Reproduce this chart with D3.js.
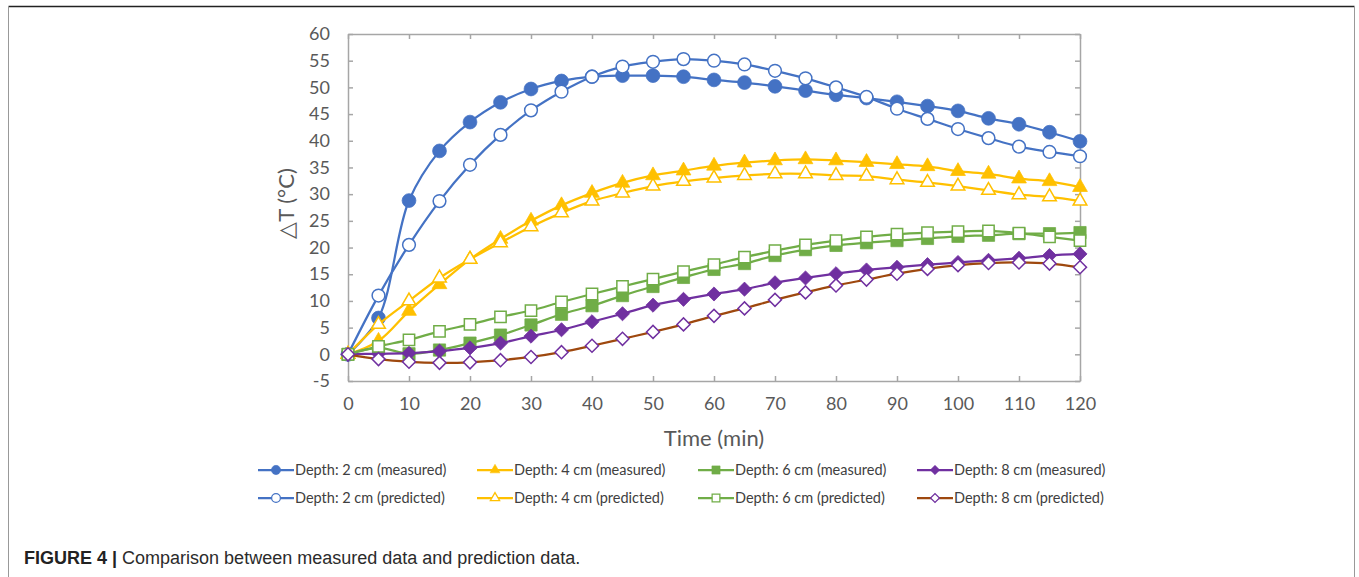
<!DOCTYPE html>
<meta charset="utf-8">
<title>Comparison between measured data and prediction data</title>
<style>
  body {
    margin: 0;
    padding: 0;
    overflow: hidden;
    background-color: #fff;
  }

  svg {
    display: block;
  }

  .tick text {
    font-family: Lato, "Open Sans", sans-serif;
    font-size: 18px;
    fill: #595959;
  }

  .axis-title {
    font-family: Lato, "Open Sans", sans-serif;
    font-size: 22px;
    fill: #595959;
  }

  .legend text {
    font-family: Lato, "Open Sans", sans-serif;
    font-size: 14.5px;
    fill: #404040;
  }

  .caption {
    font-family: "Liberation Sans", Arial, sans-serif;
    font-size: 18px;
    fill: #2b2b2b;
  }
</style>

<body>
  <script src="https://cdn.jsdelivr.net/npm/d3@7"></script>

  <script>
    var times = [0, 5, 10, 15, 20, 25, 30, 35, 40, 45, 50, 55, 60, 65, 70, 75, 80, 85, 90, 95, 100, 105, 110, 115, 120];

    var depth2Measured = [0, 6.8, 28.8, 38.1, 43.5, 47.2, 49.7, 51.2, 52.0, 52.2, 52.2, 52.0, 51.4, 50.9, 50.2, 49.4, 48.6, 48.0, 47.3, 46.5, 45.6, 44.2, 43.1, 41.6, 39.9];
    var depth4Measured = [0, 2.5, 8.1, 13.1, 17.8, 21.6, 25.0, 27.9, 30.2, 32.1, 33.5, 34.4, 35.3, 35.9, 36.3, 36.5, 36.3, 36.0, 35.6, 35.2, 34.3, 33.8, 32.9, 32.4, 31.3];
    var depth6Measured = [0, 1.2, 0.1, 0.8, 2.1, 3.6, 5.5, 7.5, 9.1, 11.0, 12.7, 14.4, 15.9, 17.0, 18.5, 19.6, 20.4, 20.9, 21.3, 21.7, 22.1, 22.3, 22.6, 22.6, 22.8];
    var depth8Measured = [0, 0.1, 0.2, 0.6, 1.2, 2.1, 3.4, 4.6, 6.1, 7.6, 9.2, 10.3, 11.3, 12.2, 13.4, 14.3, 15.1, 15.8, 16.3, 16.8, 17.2, 17.6, 18.0, 18.5, 18.8];

    var depth2Predicted = [0, 11.0, 20.5, 28.7, 35.5, 41.1, 45.7, 49.2, 52.0, 53.9, 54.8, 55.3, 55.0, 54.3, 53.1, 51.7, 50.0, 48.2, 46.0, 44.1, 42.2, 40.5, 38.9, 37.9, 37.1];
    var depth4Predicted = [0, 5.6, 10.0, 14.3, 17.8, 20.9, 23.9, 26.5, 28.7, 30.2, 31.5, 32.4, 33.0, 33.5, 33.8, 33.8, 33.5, 33.4, 32.7, 32.2, 31.5, 30.7, 29.9, 29.5, 28.7];
    var depth6Predicted = [0, 1.5, 2.7, 4.3, 5.6, 7.0, 8.2, 9.8, 11.3, 12.7, 14.1, 15.5, 16.8, 18.2, 19.4, 20.5, 21.3, 22.0, 22.5, 22.8, 23.0, 23.1, 22.7, 22.0, 21.3];
    var depth8Predicted = [0, -0.9, -1.4, -1.6, -1.5, -1.1, -0.5, 0.4, 1.6, 2.9, 4.2, 5.6, 7.2, 8.6, 10.2, 11.6, 12.9, 14.0, 15.1, 16.0, 16.7, 17.1, 17.2, 17.0, 16.3];

    var xTicks = [0, 10, 20, 30, 40, 50, 60, 70, 80, 90, 100, 110, 120];
    var yTicks = [-5, 0, 5, 10, 15, 20, 25, 30, 35, 40, 45, 50, 55, 60];

    var seriesNames = [
      "Depth: 2 cm (measured)", "Depth: 4 cm (measured)", "Depth: 6 cm (measured)", "Depth: 8 cm (measured)",
      "Depth: 2 cm (predicted)", "Depth: 4 cm (predicted)", "Depth: 6 cm (predicted)", "Depth: 8 cm (predicted)"
    ];

    var blue = "#4472c4", yellow = "#ffc000", green = "#70ad47", purple = "#7030a0", brown = "#9e480e";

    var series = [
      { name: seriesNames[0], values: depth2Measured, line: blue, marker: blue, shape: "circle", open: false },
      { name: seriesNames[1], values: depth4Measured, line: yellow, marker: yellow, shape: "triangle", open: false },
      { name: seriesNames[2], values: depth6Measured, line: green, marker: green, shape: "square", open: false },
      { name: seriesNames[3], values: depth8Measured, line: purple, marker: purple, shape: "diamond", open: false },
      { name: seriesNames[4], values: depth2Predicted, line: blue, marker: blue, shape: "circle", open: true },
      { name: seriesNames[5], values: depth4Predicted, line: yellow, marker: yellow, shape: "triangle", open: true },
      { name: seriesNames[6], values: depth6Predicted, line: green, marker: green, shape: "square", open: true },
      { name: seriesNames[7], values: depth8Predicted, line: brown, marker: purple, shape: "diamond", open: true }
    ];

    var width = 1359,
      height = 577;

    var plot = { left: 348, right: 1080, top: 34, bottom: 381 };

    var x = d3.scaleLinear().domain([0, 120]).range([plot.left, plot.right]);
    var y = d3.scaleLinear().domain([-5, 60]).range([plot.bottom, plot.top]);

    var svg = d3.select("body").append("svg")
      .attr("width", width)
      .attr("height", height)
      .attr("viewBox", `0 0 ${width} ${height}`);

    // figure frame
    svg.append("line")
      .attr("x1", 8.5).attr("x2", 1354.5).attr("y1", 6.5).attr("y2", 6.5)
      .attr("stroke", "#222").attr("stroke-width", 1.5);
    svg.append("line")
      .attr("x1", 8.5).attr("x2", 8.5).attr("y1", 6).attr("y2", height)
      .attr("stroke", "#999").attr("stroke-width", 1);
    svg.append("line")
      .attr("x1", 1354.5).attr("x2", 1354.5).attr("y1", 6).attr("y2", height)
      .attr("stroke", "#999").attr("stroke-width", 1);

    function styleAxis(g) {
      g.select(".domain").attr("stroke", "#a6a6a6").attr("stroke-width", 1.5);
      g.selectAll(".tick line").attr("stroke", "#a6a6a6").attr("stroke-width", 1.5);
    }

    var plain = d => String(d);

    svg.append("g")
      .attr("transform", `translate(${plot.left},0)`)
      .call(d3.axisLeft(y).tickValues(yTicks).tickFormat(plain).tickSize(-5).tickSizeOuter(0).tickPadding(18))
      .call(styleAxis);

    svg.append("g")
      .attr("transform", `translate(${plot.right},0)`)
      .call(d3.axisRight(y).tickValues(yTicks).tickSize(-5).tickSizeOuter(0).tickFormat(""))
      .call(styleAxis);

    svg.append("g")
      .attr("transform", `translate(0,${plot.bottom})`)
      .call(d3.axisBottom(x).tickValues(xTicks).tickFormat(plain).tickSize(-5).tickSizeOuter(0).tickPadding(16))
      .call(styleAxis);

    svg.append("g")
      .attr("transform", `translate(0,${plot.top})`)
      .call(d3.axisTop(x).tickValues(xTicks).tickSize(-5).tickSizeOuter(0).tickFormat(""))
      .call(styleAxis);

    svg.selectAll(".tick text").attr("font-family", null).attr("font-size", null);

    svg.append("text")
      .attr("class", "axis-title")
      .attr("x", (plot.left + plot.right) / 2)
      .attr("y", 446)
      .attr("text-anchor", "middle")
      .text("Time (min)");

    svg.append("text")
      .attr("class", "axis-title")
      .attr("transform", `translate(294,${(plot.top + plot.bottom) / 2 - 4}) rotate(-90)`)
      .attr("text-anchor", "middle")
      .text("△T (°C)");

    var symbolTypes = {
      circle: d3.symbolCircle,
      triangle: d3.symbolTriangle,
      square: d3.symbolSquare,
      diamond: d3.symbolSquare
    };
    var symbolSizes = { circle: 150, triangle: 95, square: 150, diamond: 100 };

    function markerPath(s, k) {
      return d3.symbol().type(symbolTypes[s.shape]).size(symbolSizes[s.shape] * k)();
    }

    function markerTransform(s, px, py) {
      return `translate(${px},${py})` + (s.shape === "diamond" ? " rotate(45)" : "");
    }

    var line = d3.line()
      .x((d, i) => x(times[i]))
      .y(d => y(d))
      .curve(d3.curveCatmullRom.alpha(0.5));

    var chart = svg.append("g").attr("class", "series");

    series.forEach(function (s) {
      var g = chart.append("g");
      g.append("path")
        .datum(s.values)
        .attr("fill", "none")
        .attr("stroke", s.line)
        .attr("stroke-width", 2.25)
        .attr("stroke-linejoin", "round")
        .attr("d", line);

      g.selectAll("path.marker").data(s.values)
        .enter().append("path")
        .attr("class", "marker")
        .attr("d", markerPath(s, s.open ? 0.85 : 1))
        .attr("transform", (d, i) => markerTransform(s, x(times[i]), y(d)))
        .attr("fill", s.open ? "#fff" : s.marker)
        .attr("stroke", s.marker)
        .attr("stroke-width", s.open ? 1.5 : 0.75);
    });

    // legend: 4 columns, 2 rows
    var legendCols = [258, 477, 698, 917];
    var legendRows = [470, 498];

    var legend = svg.append("g").attr("class", "legend")
      .selectAll("g").data(series)
      .enter().append("g")
      .attr("transform", (d, i) => `translate(${legendCols[i % 4]},${legendRows[Math.floor(i / 4)]})`);

    legend.append("line")
      .attr("x1", 0).attr("x2", 36)
      .attr("stroke", d => d.line)
      .attr("stroke-width", 2.25);

    legend.append("path")
      .attr("d", d => markerPath(d, d.open ? 0.4 : 0.45))
      .attr("transform", d => markerTransform(d, 18, 0))
      .attr("fill", d => d.open ? "#fff" : d.marker)
      .attr("stroke", d => d.marker)
      .attr("stroke-width", d => d.open ? 1.25 : 0.5);

    legend.append("text")
      .attr("x", 37)
      .attr("y", 0)
      .attr("dy", "0.35em")
      .text(d => d.name);

    var caption = svg.append("text")
      .attr("class", "caption")
      .attr("x", 24)
      .attr("y", 564);
    caption.append("tspan").attr("font-weight", "bold").attr("fill", "#222").text("FIGURE 4 | ");
    caption.append("tspan").text("Comparison between measured data and prediction data.");
  </script>
